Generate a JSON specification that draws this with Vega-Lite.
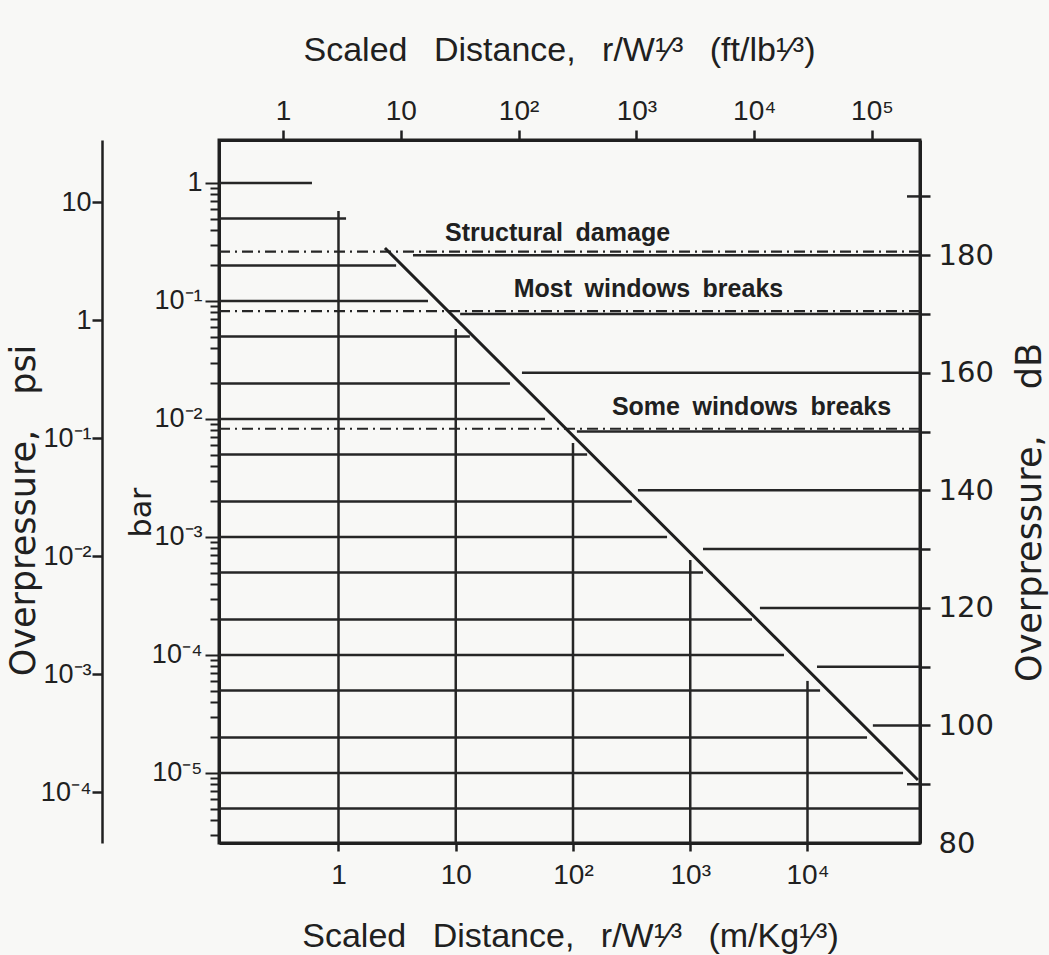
{
  "$schema": "https://vega.github.io/schema/vega-lite/v6.json",
  "width": 701,
  "height": 703,
  "autosize": {"type": "none"},
  "padding": {"left": 219, "top": 140, "right": 129, "bottom": 112},
  "background": "#f8f8f6",
  "config": {
    "view": {"stroke": "#202020", "strokeWidth": 3},
    "axis": {"grid": false, "labelColor": "#202020", "tickColor": "#202020", "domainColor": "#202020", "titleColor": "#202020", "labelOverlap": false, "labelFlush": false, "labelBound": false, "titleFontWeight": "normal", "tickWidth": 2.5, "domainWidth": 3}
  },
  "resolve": {"scale": {"x": "independent", "y": "independent"}},
  "layer": [
    {
      "data": {"values": [
        {"p": 1, "d0": 0.0957, "d1": 0.594},
        {"p": 0.5, "d0": 0.0957, "d1": 1.16},
        {"p": 0.2, "d0": 0.0957, "d1": 3.1},
        {"p": 0.1, "d0": 0.0957, "d1": 5.8},
        {"p": 0.05, "d0": 0.0957, "d1": 13.2},
        {"p": 0.02, "d0": 0.0957, "d1": 29},
        {"p": 0.01, "d0": 0.0957, "d1": 57.7},
        {"p": 0.005, "d0": 0.0957, "d1": 132},
        {"p": 0.002, "d0": 0.0957, "d1": 318},
        {"p": 0.001, "d0": 0.0957, "d1": 634},
        {"p": 0.0005, "d0": 0.0957, "d1": 1285},
        {"p": 0.0002, "d0": 0.0957, "d1": 3365},
        {"p": 0.0001, "d0": 0.0957, "d1": 6300},
        {"p": 0.00005, "d0": 0.0957, "d1": 12800},
        {"p": 0.00002, "d0": 0.0957, "d1": 32200},
        {"p": 0.00001, "d0": 0.0957, "d1": 65300},
        {"p": 0.000005, "d0": 0.0957, "d1": 91100}
      ]},
      "mark": {"type": "rule", "stroke": "#262626", "strokeWidth": 2.5},
      "encoding": {
        "x": {"field": "d0", "type": "quantitative",
          "scale": {"type": "log", "domain": [0.0957, 91100], "nice": false},
          "axis": {"orient": "bottom", "values": [1, 10, 100, 1000, 10000],
            "labelExpr": "datum.value == 1 ? '1' : datum.value == 10 ? '10' : datum.value == 100 ? '10²' : datum.value == 1000 ? '10³' : '10⁴'",
            "tickSize": 8, "labelPadding": 10, "labelFont": "Liberation Sans", "labelFontSize": 28,
            "title": "Scaled\u2002 Distance,\u2002 r/W¹⁄³\u2002 (m/Kg¹⁄³)", "titleFont": "Liberation Sans", "titleFontSize": 34,
            "titleX": 351, "titleY": 103, "titleAngle": 0, "titleBaseline": "alphabetic", "titleAlign": "center"}},
        "x2": {"field": "d1"},
        "y": {"field": "p", "type": "quantitative",
          "scale": {"type": "log", "domain": [0.000002551, 2.314], "nice": false},
          "axis": {"orient": "left",
            "values": [1, 0.9, 0.8, 0.7, 0.6, 0.5, 0.4, 0.3, 0.2, 0.1, 0.09, 0.08, 0.07, 0.06, 0.05, 0.04, 0.03, 0.02, 0.01, 0.009, 0.008, 0.007, 0.006, 0.005, 0.004, 0.003, 0.002, 0.001, 0.0009, 0.0008, 0.0007, 0.0006, 0.0005, 0.0004, 0.0003, 0.0002, 0.0001, 0.00009, 0.00008, 0.00007, 0.00006, 0.00005, 0.00004, 0.00003, 0.00002, 0.00001, 0.000009, 0.000008, 0.000007, 0.000006, 0.000005, 0.000004, 0.000003],
            "labelExpr": "datum.value == 1 ? '1' : datum.value == 0.1 ? '10⁻¹' : datum.value == 0.01 ? '10⁻²' : datum.value == 0.001 ? '10⁻³' : datum.value == 0.0001 ? '10⁻⁴' : datum.value == 0.00001 ? '10⁻⁵' : ''",
            "tickSize": {"condition": {"test": "indexof([1, 0.1, 0.01, 0.001, 0.0001, 0.00001], datum.value) >= 0", "value": 14}, "value": 9},
            "tickWidth": 2, "labelPadding": 3, "labelFont": "Liberation Sans", "labelFontSize": 27,
            "title": "bar", "titleFont": "DejaVu Sans", "titleFontSize": 30,
            "titleX": -69, "titleY": 372, "titleAngle": 270, "titleBaseline": "alphabetic", "titleAlign": "center"}}
      }
    },
    {
      "data": {"values": [
        {"d": 1, "p_top": 0.579, "p_bot": 0.000002551},
        {"d": 10, "p_top": 0.058, "p_bot": 0.000002551},
        {"d": 100, "p_top": 0.00626, "p_bot": 0.000002551},
        {"d": 1000, "p_top": 0.000638, "p_bot": 0.000002551},
        {"d": 10000, "p_top": 0.0000603, "p_bot": 0.000002551}
      ]},
      "mark": {"type": "rule", "stroke": "#262626", "strokeWidth": 2.5},
      "encoding": {
        "x": {"field": "d", "type": "quantitative", "scale": {"type": "log", "domain": [0.0957, 91100], "nice": false}, "axis": null},
        "y": {"field": "p_top", "type": "quantitative", "scale": {"type": "log", "domain": [0.000002551, 2.314], "nice": false}, "axis": null},
        "y2": {"field": "p_bot"}
      }
    },
    {
      "data": {"values": [
        {"label": "Structural damage", "p": 0.262, "d0": 0.0957, "d1": 91100},
        {"label": "Most windows breaks", "p": 0.0822, "d0": 0.0957, "d1": 91100},
        {"label": "Some windows breaks", "p": 0.00827, "d0": 0.0957, "d1": 91100}
      ]},
      "mark": {"type": "rule", "stroke": "#262626", "strokeWidth": 2.2, "strokeDash": [11, 5, 2, 5]},
      "encoding": {
        "x": {"field": "d0", "type": "quantitative", "scale": {"type": "log", "domain": [0.0957, 91100], "nice": false}, "axis": null},
        "x2": {"field": "d1"},
        "y": {"field": "p", "type": "quantitative", "scale": {"type": "log", "domain": [0.000002551, 2.314], "nice": false}, "axis": null}
      }
    },
    {
      "data": {"values": [
        {"d": 2.49, "p": 0.281},
        {"d": 87500, "p": 0.00000873}
      ]},
      "mark": {"type": "line", "stroke": "#1e1e1e", "strokeWidth": 3},
      "encoding": {
        "x": {"field": "d", "type": "quantitative", "scale": {"type": "log", "domain": [0.0957, 91100], "nice": false}, "axis": null},
        "y": {"field": "p", "type": "quantitative", "scale": {"type": "log", "domain": [0.000002551, 2.314], "nice": false}, "axis": null}
      }
    },
    {
      "data": {"values": [
        {"d": 73.8, "p": 0.3225, "text": "Structural\u2002damage"},
        {"d": 440, "p": 0.108, "text": "Most\u2002windows\u2002breaks"},
        {"d": 3330, "p": 0.0108, "text": "Some\u2002windows\u2002breaks"}
      ]},
      "mark": {"type": "text", "font": "Liberation Sans", "fontWeight": "bold", "fontSize": 25, "align": "center", "baseline": "alphabetic", "fill": "#202020"},
      "encoding": {
        "x": {"field": "d", "type": "quantitative", "scale": {"type": "log", "domain": [0.0957, 91100], "nice": false}, "axis": null},
        "y": {"field": "p", "type": "quantitative", "scale": {"type": "log", "domain": [0.000002551, 2.314], "nice": false}, "axis": null},
        "text": {"field": "text"}
      }
    },
    {
      "data": {"values": [
        {"db": 190, "d0": 70600, "d1": 91100},
        {"db": 180, "d0": 4.32, "d1": 91100},
        {"db": 170, "d0": 10.9, "d1": 91100},
        {"db": 160, "d0": 36.7, "d1": 91100},
        {"db": 150, "d0": 108, "d1": 91100},
        {"db": 140, "d0": 358, "d1": 91100},
        {"db": 130, "d0": 1285, "d1": 91100},
        {"db": 120, "d0": 3930, "d1": 91100},
        {"db": 110, "d0": 12050, "d1": 91100},
        {"db": 100, "d0": 36100, "d1": 91100},
        {"db": 90, "d0": 70600, "d1": 91100}
      ]},
      "mark": {"type": "rule", "stroke": "#262626", "strokeWidth": 2.5},
      "encoding": {
        "x": {"field": "d0", "type": "quantitative", "scale": {"type": "log", "domain": [0.0957, 91100], "nice": false}, "axis": null},
        "x2": {"field": "d1"},
        "y": {"field": "db", "type": "quantitative",
          "scale": {"type": "linear", "domain": [80, 199.6], "nice": false, "zero": false},
          "axis": {"orient": "right", "values": [80, 90, 100, 110, 120, 130, 140, 150, 160, 170, 180, 190],
            "labelExpr": "datum.value % 20 == 0 ? datum.label : ''",
            "tickSize": 10, "tickOpacity": {"condition": {"test": "datum.value == 80", "value": 0}, "value": 1},
            "labelPadding": 8, "labelFont": "DejaVu Sans", "labelFontSize": 29,
            "title": "Overpressure,\u2003 dB", "titleFont": "DejaVu Sans", "titleFontSize": 35,
            "titleX": 120, "titleY": 372, "titleAngle": 270, "titleBaseline": "alphabetic", "titleAlign": "center"}}
      }
    },
    {
      "data": {"values": [{"ft": 1}, {"ft": 10}, {"ft": 100}, {"ft": 1000}, {"ft": 10000}, {"ft": 100000}]},
      "mark": {"type": "point", "opacity": 0},
      "encoding": {
        "x": {"field": "ft", "type": "quantitative",
          "scale": {"type": "log", "domain": [0.2862, 255600], "nice": false},
          "axis": {"orient": "top", "values": [1, 10, 100, 1000, 10000, 100000],
            "labelExpr": "datum.value == 1 ? '1' : datum.value == 10 ? '10' : datum.value == 100 ? '10²' : datum.value == 1000 ? '10³' : datum.value == 10000 ? '10⁴' : '10⁵'",
            "tickSize": 10, "labelPadding": 5, "labelFont": "Liberation Sans", "labelFontSize": 28,
            "title": "Scaled\u2002 Distance,\u2002 r/W¹⁄³\u2002 (ft/lb¹⁄³)", "titleFont": "Liberation Sans", "titleFontSize": 34,
            "titleX": 340, "titleY": -80, "titleAngle": 0, "titleBaseline": "alphabetic", "titleAlign": "center"}}
      }
    },
    {
      "data": {"values": [{"psi": 10}, {"psi": 1}, {"psi": 0.1}, {"psi": 0.01}, {"psi": 0.001}, {"psi": 0.0001}]},
      "mark": {"type": "point", "opacity": 0},
      "encoding": {
        "y": {"field": "psi", "type": "quantitative",
          "scale": {"type": "log", "domain": [0.000037, 33.56], "nice": false},
          "axis": {"orient": "left", "offset": 117, "values": [10, 1, 0.1, 0.01, 0.001, 0.0001],
            "labelExpr": "datum.value == 10 ? '10' : datum.value == 1 ? '1' : datum.value == 0.1 ? '10⁻¹' : datum.value == 0.01 ? '10⁻²' : datum.value == 0.001 ? '10⁻³' : '10⁻⁴'",
            "tickSize": 10, "labelPadding": 1, "labelFont": "Liberation Sans", "labelFontSize": 27, "domainWidth": 2.5,
            "title": "Overpressure,\u2003psi", "titleFont": "DejaVu Sans", "titleFontSize": 35,
            "titleX": -68, "titleY": 370, "titleAngle": 270, "titleBaseline": "alphabetic", "titleAlign": "center"}}
      }
    }
  ]
}
